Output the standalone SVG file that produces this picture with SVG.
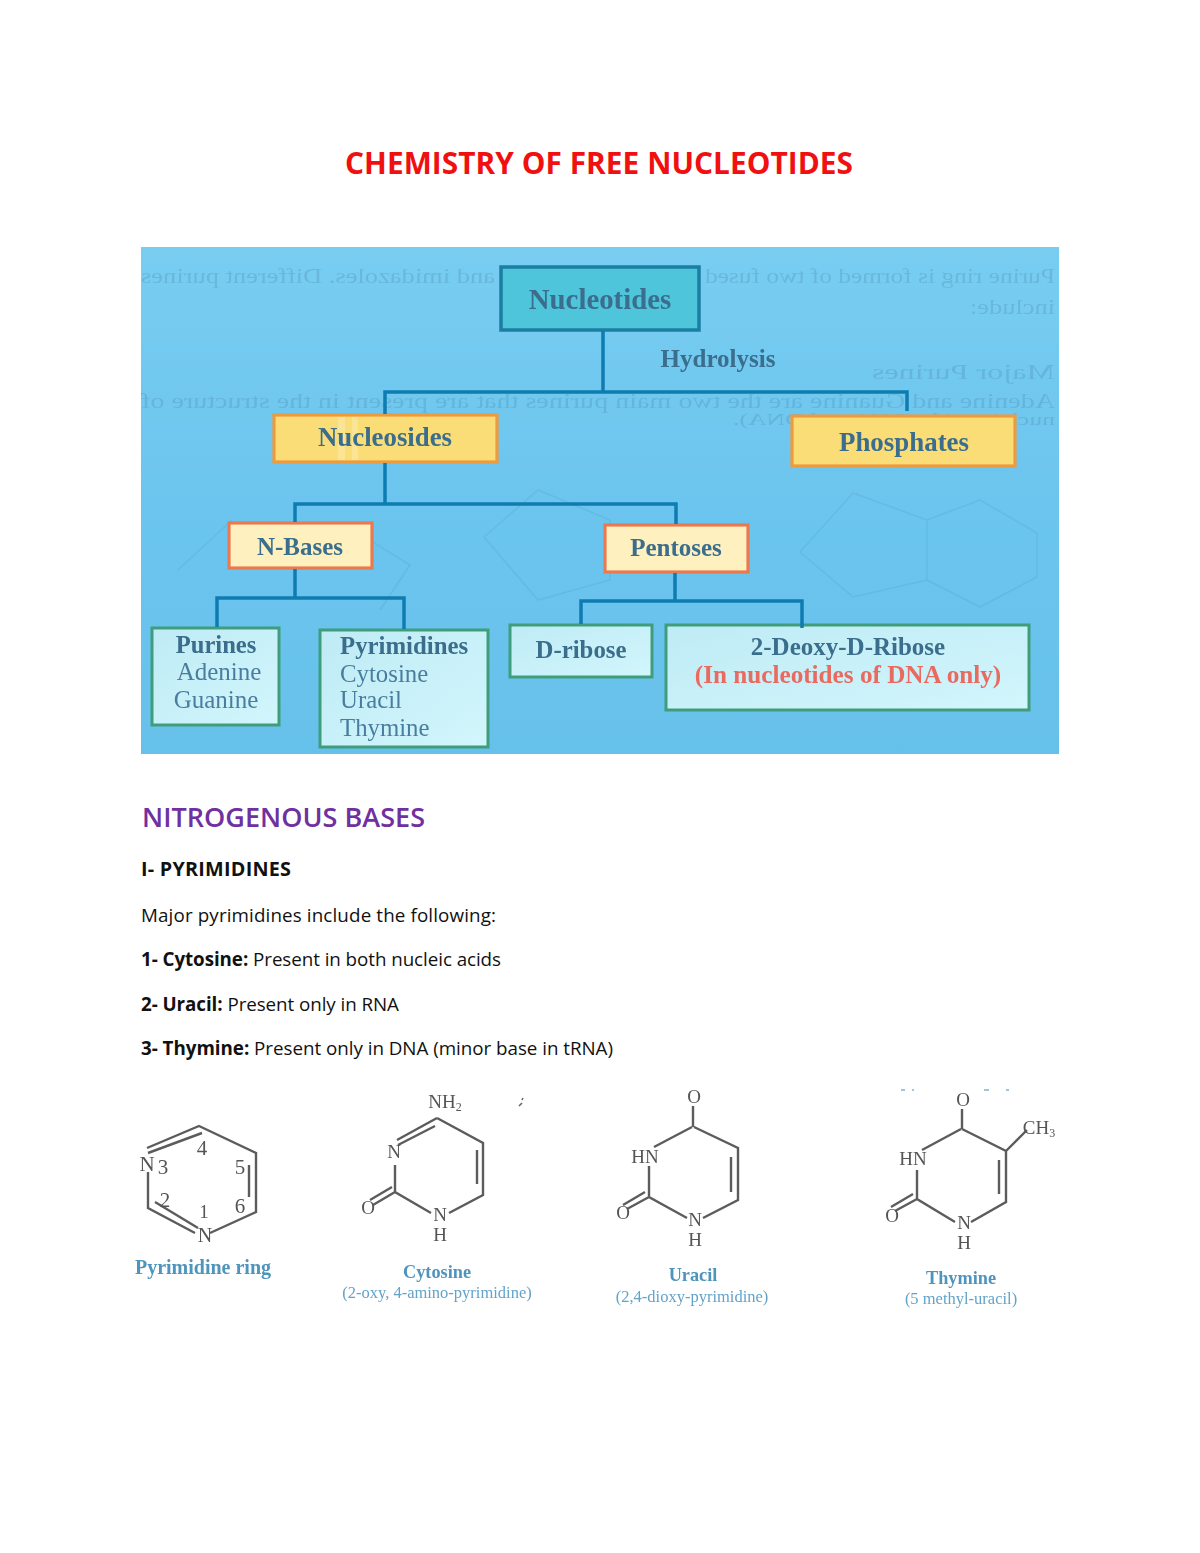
<svg xmlns="http://www.w3.org/2000/svg" width="1200" height="1553" viewBox="0 0 1200 1553">
<style>
.h{font-family:"Open Sans","Noto Sans",sans-serif}
.c{font-family:"Open Sans","Noto Sans",sans-serif;font-size:18.8px;fill:#111}
.b{font-weight:700}
.s{font-family:"Liberation Serif",serif}
.l{font-family:"Liberation Serif",serif;font-weight:700;fill:#3a6d8c}
.n{font-family:"Liberation Serif",serif;fill:#4a7d9f}
.g{font-family:"Liberation Serif",serif;font-size:22px;fill:#3f7a9e;opacity:.24}
.gs{fill:none;stroke:#4a88a8;stroke-width:1.6;opacity:.16}
.conn{fill:none;stroke:#0f7cb0;stroke-width:3.5}
.y{fill:#fbdd78;stroke:#ef9a3c;stroke-width:3.2}
.p{fill:#fff0c0;stroke:#e97a50;stroke-width:3.2}
.t{fill:url(#box);stroke:#3f9d7c;stroke-width:3}
.m{fill:none;stroke:#5c5c5c;stroke-width:2.4}
.a{font-family:"Liberation Serif",serif;font-size:19px;fill:#555;text-anchor:middle}
.d{font-family:"Liberation Serif",serif;font-size:21px;fill:#555;text-anchor:middle}
.cap{font-family:"Liberation Serif",serif;font-weight:700;font-size:18.3px;fill:#4f94bd;text-anchor:middle}
.sub{font-family:"Liberation Serif",serif;font-size:16.5px;fill:#63a3c9;text-anchor:middle}
</style>
<defs>
<linearGradient id="bg" x1="0" y1="0" x2="0" y2="1"><stop offset="0" stop-color="#78cdf1"/><stop offset=".5" stop-color="#6cc5ee"/><stop offset="1" stop-color="#66c1ea"/></linearGradient>
<linearGradient id="box" x1="0" y1="0" x2="1" y2="1"><stop offset="0" stop-color="#bfebf5"/><stop offset="1" stop-color="#d2f6fc"/></linearGradient>
<filter id="soft" x="-2%" y="-2%" width="104%" height="104%"><feGaussianBlur stdDeviation="0.6"/></filter>
</defs>
<rect width="1200" height="1553" fill="#fff"/>
<text class="h b" x="345" y="174" font-size="29.8" fill="#f01010" textLength="508">CHEMISTRY OF FREE NUCLEOTIDES</text>
<g id="diagram" filter="url(#soft)">
<rect x="141" y="247" width="918" height="507" fill="url(#bg)"/>
<g id="ghost-text">
<text class="g" transform="translate(1055 283) scale(-1 1)" textLength="350" lengthAdjust="spacingAndGlyphs">Purine ring is formed of two fused</text>
<text class="g" transform="translate(495 283) scale(-1 1)" textLength="354" lengthAdjust="spacingAndGlyphs">and imidazoles. Different purines</text>
<text class="g" transform="translate(1055 314) scale(-1 1)" textLength="85" lengthAdjust="spacingAndGlyphs">include:</text>
<text class="g" transform="translate(1055 379) scale(-1 1)" textLength="183" lengthAdjust="spacingAndGlyphs">Major Purines</text>
<text class="g" transform="translate(1055 408) scale(-1 1)" textLength="914" lengthAdjust="spacingAndGlyphs">Adenine and Guanine are the two main purines that are present in the structure of</text>
<text class="g" transform="translate(1055 425) scale(-1 1)" style="font-size:16px" textLength="322" lengthAdjust="spacingAndGlyphs">nucleic acids (RNA and DNA).</text>
<path class="gs" d="M800 552L853 493L927 520V580L853 597ZM927 520L980 500L1037 533V577L980 607L927 580"/>
<path class="gs" d="M484 537L538 490L610 520V580L538 600ZM178 570L232 520M345 525L410 565L380 610"/>
</g>
<g id="node-nucleotides"><rect x="501" y="267" width="198" height="63" fill="#4fc5db" stroke="#1b7ea3" stroke-width="3.5"/><text class="l" x="600" y="309" font-size="28.8" text-anchor="middle">Nucleotides</text></g>
<text id="label-hydrolysis" class="l" x="718" y="367" font-size="25" text-anchor="middle">Hydrolysis</text>
<g id="node-nucleosides"><rect class="y" x="274" y="415" width="223" height="47"/><rect x="338" y="417" width="7" height="43" fill="#fff" opacity=".22"/><rect x="352" y="417" width="6" height="43" fill="#fff" opacity=".22"/><text class="l" x="385" y="446" font-size="26.8" text-anchor="middle">Nucleosides</text></g>
<g id="node-phosphates"><rect class="y" x="792" y="416" width="223" height="50"/><text class="l" x="904" y="451" font-size="26.9" text-anchor="middle">Phosphates</text></g>
<g id="node-nbases"><rect class="p" x="229" y="523" width="143" height="45"/><text class="l" x="300" y="555" font-size="25" text-anchor="middle">N-Bases</text></g>
<g id="node-pentoses"><rect class="p" x="605" y="525" width="143" height="47"/><text class="l" x="676" y="556" font-size="25" text-anchor="middle">Pentoses</text></g>
<g id="node-purines"><rect class="t" x="152" y="628" width="127" height="97"/>
<text class="l" x="216" y="653" font-size="24.6" text-anchor="middle">Purines</text>
<text class="n" x="219" y="680" font-size="25" text-anchor="middle">Adenine</text>
<text class="n" x="216" y="708" font-size="25" text-anchor="middle">Guanine</text></g>
<g id="node-pyrimidines"><rect class="t" x="320" y="630" width="168" height="117"/>
<text class="l" x="340" y="654" font-size="24.8">Pyrimidines</text>
<text class="n" x="340" y="682" font-size="24.8">Cytosine</text>
<text class="n" x="340" y="708" font-size="24.8">Uracil</text>
<text class="n" x="340" y="736" font-size="24.8">Thymine</text></g>
<g id="node-dribose"><rect class="t" x="510" y="625" width="142" height="52"/><text class="l" x="581" y="658" font-size="24.8" text-anchor="middle">D-ribose</text></g>
<g id="node-deoxyribose"><rect class="t" x="666" y="625" width="363" height="85"/>
<text class="l" x="848" y="655" font-size="25" text-anchor="middle">2-Deoxy-D-Ribose</text>
<text x="848" y="683" font-size="25.2" font-weight="700" fill="#ea6a60" text-anchor="middle" class="s">(In nucleotides of DNA only)</text></g>
<g id="connectors">
<path class="conn" d="M603 331V392M385 414V392H907V411"/>
<path class="conn" d="M385 463V504M295 522V504H676V524"/>
<path class="conn" d="M295 569V598M217 627V598H404V629"/>
<path class="conn" d="M675 573V601M581 624V601H802V628"/>
</g>
</g>

<text class="h" x="142" y="827" font-size="27" fill="#7030a0" font-weight="600" textLength="283">NITROGENOUS BASES</text>
<text class="c b" x="141" y="876" style="font-size:19.8px" textLength="150">I- PYRIMIDINES</text>
<text class="c" x="141" y="922" textLength="355">Major pyrimidines include the following:</text>
<text class="c" x="141" y="966" textLength="360"><tspan class="b">1- Cytosine:</tspan> Present in both nucleic acids</text>
<text class="c" x="141" y="1011" textLength="258"><tspan class="b">2- Uracil:</tspan> Present only in RNA</text>
<text class="c" x="141" y="1055" textLength="472"><tspan class="b">3- Thymine:</tspan> Present only in DNA (minor base in tRNA)</text>

<g id="structures" filter="url(#soft)">
<g id="pyrimidine-ring">
<path class="m" d="M147 1148L199 1126L256 1153V1212L210 1233M148 1172V1208L195 1233M148 1153L202 1133M249 1165V1197M155 1202L198 1228"/>
<text class="d" x="147" y="1171">N</text><text class="d" x="163" y="1174">3</text><text class="d" x="202" y="1155">4</text><text class="d" x="240" y="1174">5</text><text class="d" x="240" y="1213">6</text><text class="d" x="165" y="1207">2</text><text class="a" x="204" y="1218">1</text><text class="a" x="205" y="1242" style="font-size:20px">N</text>
<text class="cap" x="203" y="1274" style="font-size:20px">Pyrimidine ring</text>
</g>
<g id="cytosine">
<path class="m" d="M437 1118L483 1143V1195L449 1213M431 1213L395 1192V1165M397 1140L437 1118M398 1145L435 1126M477 1150V1184M395 1192L373 1205M392 1187L370 1200"/>
<text class="a" x="445" y="1108">NH<tspan font-size="12" dy="3">2</tspan></text><text class="a" x="394" y="1158">N</text><text class="a" x="440" y="1221">N</text><text class="a" x="440" y="1241">H</text><text class="a" x="368" y="1214">O</text>
<path d="M523 1098l-1 2M522 1103l-3 3" stroke="#666" stroke-width="1.6" fill="none"/>
<text class="cap" x="437" y="1278">Cytosine</text><text class="sub" x="437" y="1298">(2-oxy, 4-amino-pyrimidine)</text>
</g>
<g id="uracil">
<path class="m" d="M693 1106V1127M694 1127L738 1148V1200L703 1218M687 1218L649 1197V1166M654 1147L692 1127M731 1157V1192M649 1197L627 1209M645 1192L623 1205"/>
<text class="a" x="694" y="1103">O</text><text class="a" x="645" y="1163">HN</text><text class="a" x="695" y="1226">N</text><text class="a" x="695" y="1246">H</text><text class="a" x="623" y="1219">O</text>
<text class="cap" x="693" y="1281">Uracil</text><text class="sub" x="692" y="1302">(2,4-dioxy-pyrimidine)</text>
</g>
<g id="thymine">
<path class="m" d="M962 1109V1129M962 1129L1006 1151V1202L971 1222M955 1222L917 1199V1170M922 1150L961 1129M999 1160V1194M917 1199L895 1211M913 1194L891 1207M1006 1151L1027 1130"/>
<text class="a" x="963" y="1106">O</text><text class="a" x="913" y="1165">HN</text><text class="a" x="1039" y="1134">CH<tspan font-size="12" dy="3">3</tspan></text><text class="a" x="964" y="1229">N</text><text class="a" x="964" y="1249">H</text><text class="a" x="892" y="1222">O</text>
<path d="M901 1090h4M912 1090h2M984 1090h5M1006 1090h3" stroke="#7fb4d2" stroke-width="1.6" fill="none"/>
<text class="cap" x="961" y="1284">Thymine</text><text class="sub" x="961" y="1304">(5 methyl-uracil)</text>
</g>
</g>
</svg>
